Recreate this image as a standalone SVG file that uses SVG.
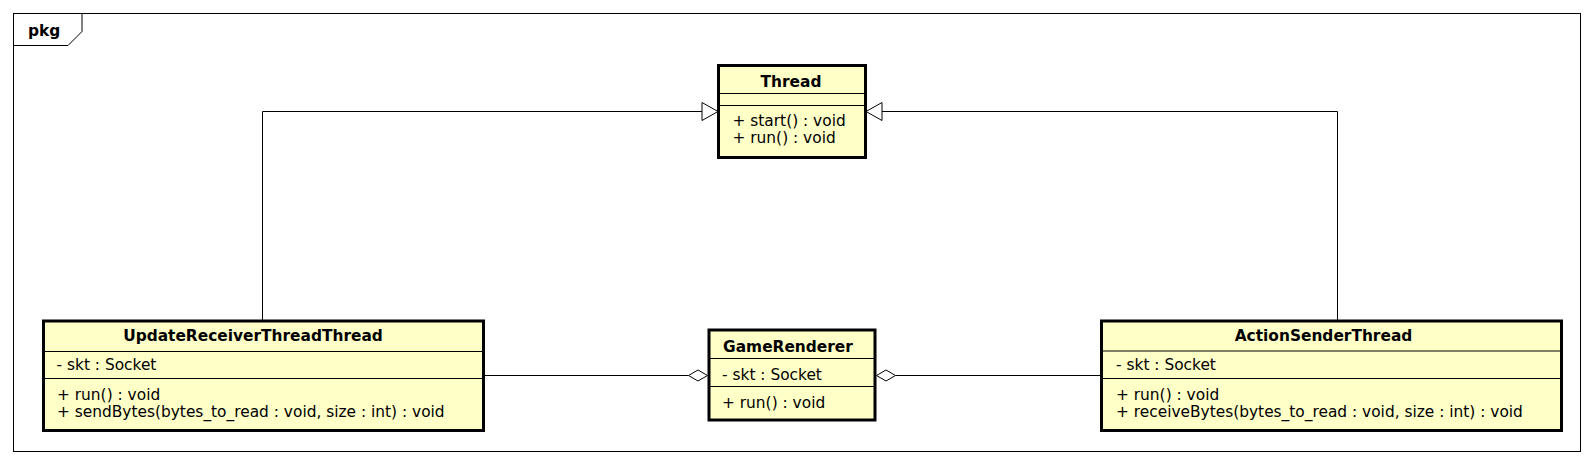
<svg xmlns="http://www.w3.org/2000/svg" width="1593" height="464" viewBox="0 0 1593 464">
<style>
.box{fill:#ffffc8;stroke:#000;stroke-width:3}
.sep{stroke:#000;stroke-width:1}
.t{font-family:"DejaVu Sans",sans-serif;font-size:15.4px;fill:#000}
.b{font-weight:bold;text-anchor:middle}
.c{fill:none;stroke:#000;stroke-width:1}
.tri{fill:#fff;stroke:#000;stroke-width:1}
</style>
<rect width="1593" height="464" fill="#fff"/>
<g id="frame">
<rect x="13.5" y="13.5" width="1567" height="438" fill="none" stroke="#000" stroke-width="1"/>
<path d="M13.5,45.5 H68 L82,31.5 V13.5" fill="none" stroke="#000" stroke-width="1"/>
<text class="t" x="28" y="36" font-weight="bold">pkg</text>
</g>
<g id="connectors">
<path class="c" d="M262.5,321 V111.5 H702"/>
<polygon class="tri" points="702,102.5 718,111.5 702,120.5"/>
<path class="c" d="M1337.5,321 V111.5 H882"/>
<polygon class="tri" points="882,102.5 866,111.5 882,120.5"/>
<path class="c" d="M483,375.5 H688.5"/>
<polygon class="tri" points="688.5,375.5 698,370 707.5,375.5 698,381"/>
<path class="c" d="M895.5,375.5 H1101"/>
<polygon class="tri" points="876.5,375.5 886,370 895.5,375.5 886,381"/>
</g>
<g id="Thread">
<rect class="box" x="718.5" y="65.5" width="147" height="92"/>
<line class="sep" x1="718.5" y1="93.5" x2="865.5" y2="93.5"/>
<line class="sep" x1="718.5" y1="105.5" x2="865.5" y2="105.5"/>
<text class="t b" x="791" y="86.5">Thread</text>
<text class="t" x="732.5" y="126">+ start() : void</text>
<text class="t" x="732.5" y="143">+ run() : void</text>
</g>
<g id="UpdateReceiverThreadThread">
<rect class="box" x="43.5" y="321" width="440" height="109.5"/>
<line class="sep" x1="43.5" y1="351.5" x2="483.5" y2="351.5"/>
<line class="sep" x1="43.5" y1="378.5" x2="483.5" y2="378.5"/>
<text class="t b" x="253" y="341">UpdateReceiverThreadThread</text>
<text class="t" x="56.5" y="370">- skt : Socket</text>
<text class="t" x="57" y="400">+ run() : void</text>
<text class="t" x="57" y="417">+ sendBytes(bytes_to_read : void, size : int) : void</text>
</g>
<g id="GameRenderer">
<rect class="box" x="709" y="330" width="166" height="90"/>
<line class="sep" x1="709" y1="358.5" x2="875" y2="358.5"/>
<line class="sep" x1="709" y1="386.5" x2="875" y2="386.5"/>
<text class="t b" x="788" y="351.5">GameRenderer</text>
<text class="t" x="722" y="380">- skt : Socket</text>
<text class="t" x="722" y="408">+ run() : void</text>
</g>
<g id="ActionSenderThread">
<rect class="box" x="1101.5" y="321" width="460" height="109.5"/>
<line class="sep" x1="1101.5" y1="351" x2="1561.5" y2="351"/>
<line class="sep" x1="1101.5" y1="378.5" x2="1561.5" y2="378.5"/>
<text class="t b" x="1323.5" y="341">ActionSenderThread</text>
<text class="t" x="1116" y="370">- skt : Socket</text>
<text class="t" x="1116" y="400">+ run() : void</text>
<text class="t" x="1116" y="417">+ receiveBytes(bytes_to_read : void, size : int) : void</text>
</g>
</svg>
